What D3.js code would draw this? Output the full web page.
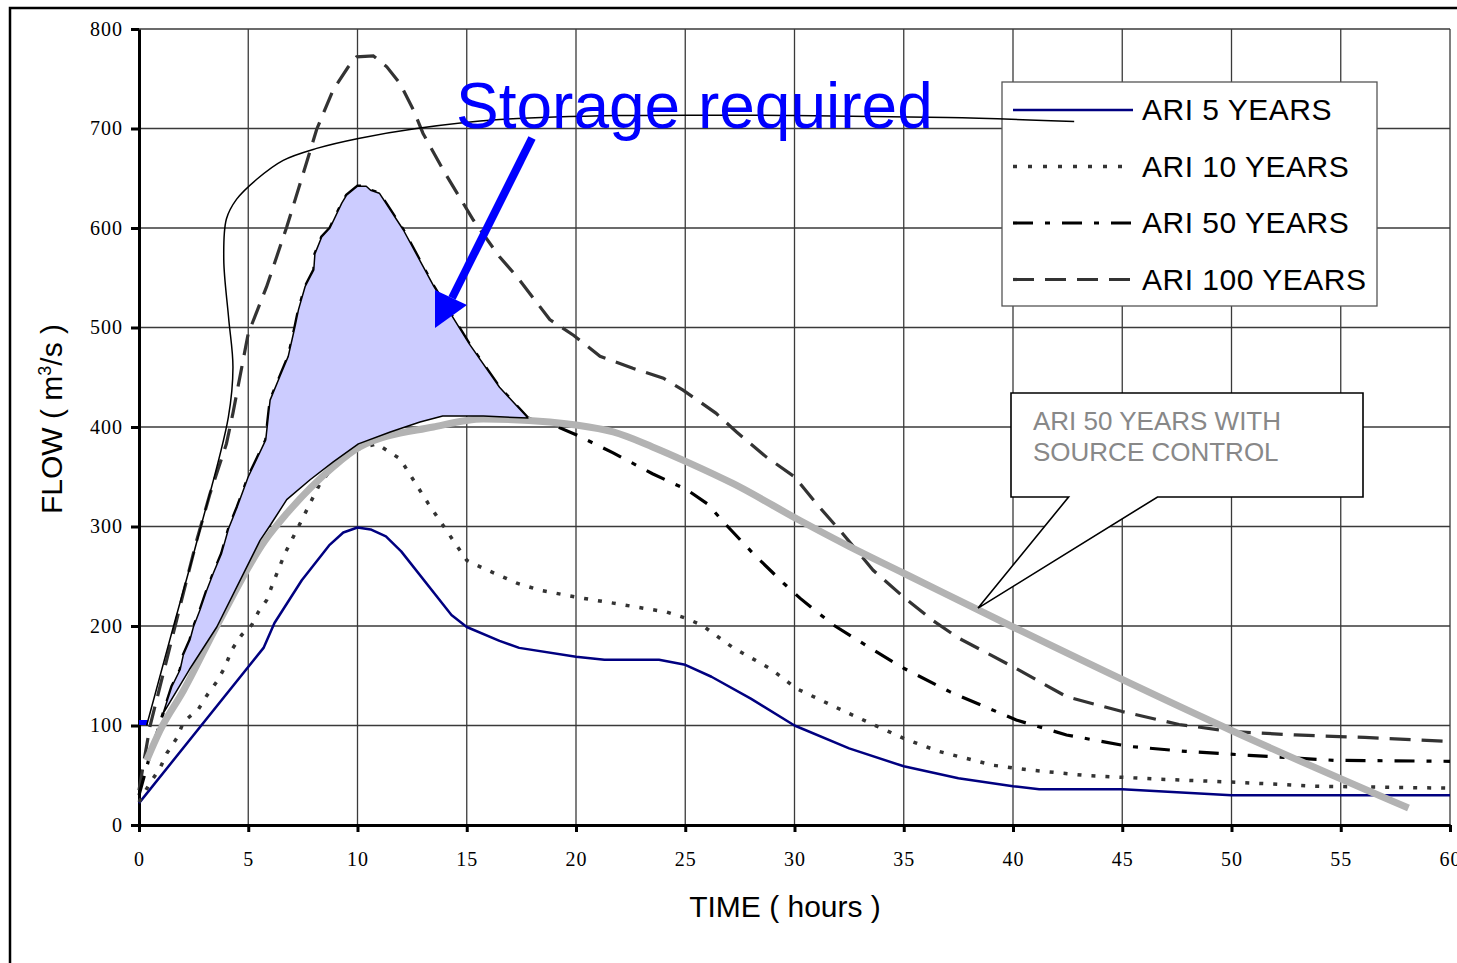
<!DOCTYPE html>
<html lang="en">
<head>
  <meta charset="UTF-8">
  <title>Flow hydrographs</title>
  <script src="https://d3js.org/d3.v7.min.js"></script>
  <style>
    * { margin: 0; padding: 0; box-sizing: border-box; }
    body { background: #fff; }
    svg { display: block; }
    .tick text { font-family: "Liberation Serif", "Times New Roman", serif; font-size: 20px; letter-spacing: 1px; fill: #000; }
  </style>
</head>
<body>
  <div id="chart"></div>

  <script>
    // tick labels
    const xTicks = [0, 5, 10, 15, 20, 25, 30, 35, 40, 45, 50, 55, 60];
    const yTicks = [0, 100, 200, 300, 400, 500, 600, 700, 800];

    // [hours, flow m3/s]
    const ari5 = [[0,22],[5.7,178],[6.2,203],[7.45,246],[8.7,281],[9.35,294],[10,299],[10.6,297],[11.3,290],[12,275],
      [14.3,211],[15,199],[16.5,185],[17.4,178],[20,169],[21.3,166],[23.8,166],[25,161],[26.2,149],[28,127],
      [30,100],[32.5,77],[35,59],[37.5,47],[40,39],[41.2,36],[45,36],[50,30],[60,30]];

    const ari10 = [[0,23],[0.5,42],[0.96,57],[1.27,72],[1.72,87],[2.05,104],[2.71,116],[3.1,130],[3.56,144],[3.94,159],
      [4.24,176],[4.7,191],[5.16,201],[5.46,214],[5.84,226],[6.15,244],[6.68,273],[7.37,303],[7.98,330],[8.28,343],
      [8.89,360],[10.04,378],[10.88,383],[11.95,368],[13.24,323],[14.38,286],[15,266],[15.76,258],[17.3,243],
      [18.35,236],[20,229],[21.7,223],[24.15,214],[25,208],[25.75,201],[27.2,178],[28.9,157],[30.1,137],[32.5,112],
      [35,87],[36.6,74],[39.1,60],[40.9,55],[43.2,50],[46.7,46],[50.2,43],[53.8,39],[60,37]];

    const ari50 = [[0,30],[0.5,70],[1.1,112],[1.5,139],[1.88,156],[2.03,171],[2.33,186],[2.49,199],[2.79,216],
      [3.1,236],[3.4,253],[3.78,273],[4.1,298],[4.5,320],[5.0,350],[5.8,387],[6.0,427],[6.45,451],[6.83,471],
      [7.14,501],[7.3,518],[7.6,541],[8.0,558],[8.05,574],[8.36,591],[8.74,600],[9.28,625],[9.5,633],[10.0,642],
      [10.4,642],[10.6,638],[11.0,635],[12.1,598],[13.5,541],[15.1,484],[16.5,440],[17.8,409],[18.96,402],
      [20.03,392],[21.7,374],[23.5,353],[25.07,337],[26.0,323],[26.9,301],[28.1,273],[29.5,243],[30.25,228],
      [31.78,201],[33.6,176],[35,157.5],[37.1,134],[40.15,105.5],[42.45,90.5],[45.3,79],[47.9,74],[50.8,70],
      [54.7,65],[60,64]];

    const ari100 = [[0,35],[0.5,99],[0.96,139],[2.03,233],[2.64,286],[3.25,333],[4.0,383],[4.3,414],[5.0,494],
      [5.84,541],[6.76,601],[7.52,655],[8.13,699],[8.89,739],[9.58,762],[9.96,772],[10.72,773],[11.34,762],
      [11.95,745],[12.55,719],[13.0,695],[13.93,658],[15.3,608],[16.5,571],[17.3,551],[18.8,508],[19.9,492],
      [21.1,471],[22.6,459],[24.0,449],[24.9,437],[26.4,414],[27.35,395],[28.7,370],[30,350],[31,323],[32.2,293],
      [33.6,256],[35,229],[36.3,206],[37.5,188],[40,159],[42.45,129],[45,114],[47.6,101],[50,94],[52.9,90.5],
      [56.1,88],[60,84]];

    const sourceControl = [[0.35,65],[0.96,95],[2.03,135],[3.63,203],[5.77,286],[6.76,313],[8.89,360],[10.1,380],
      [13.47,400],[15.76,408],[18.8,405],[20,402],[21.7,395],[23.5,380],[25.07,365],[27.2,343],[30.25,306],
      [32.5,280],[35,253],[40,199],[50,95],[58.1,17]];

    // lower edge of the shaded storage area
    const storageLower = [[1.1,112],[2.3,156],[3.56,199],[5.54,286],[6.0,301],[6.76,327],[7.83,347],[8.89,365],
      [10.04,383],[11.5,395],[12.86,405],[13.9,411],[15.76,411],[17.8,409]];

    // leader line of the "Storage required" note
    const leader = [[0.35,100],[1.57,199],[2.71,290],[4.09,410],[4.3,460],[4.1,510],[3.88,568],[4.0,609],
      [4.47,629],[5.39,649],[6.6,668],[8.13,680],[10.04,690],[12.7,700],[16.5,709],[22,713],[30,713],[37,711],[42.8,707]];

    const startMark = [[0,103],[0.4,103]];

    const legendLabels = ["ARI 5 YEARS", "ARI 10 YEARS", "ARI 50 YEARS", "ARI 100 YEARS"];

    const W = 1457, H = 963;
    const svg = d3.select("#chart").append("svg").attr("width", W).attr("height", H);

    const x = d3.scaleLinear().domain([0, 60]).range([139, 1450]);
    const y = d3.scaleLinear().domain([0, 800]).range([825, 29]);

    // outer frame
    svg.append("rect").attr("x", 10).attr("y", 8).attr("width", 1480).attr("height", 1000)
       .attr("fill", "#fff").attr("stroke", "#000").attr("stroke-width", 2.5);

    // grid
    svg.append("g").selectAll("line").data(yTicks.slice(1)).enter().append("line")
       .attr("x1", x(0)).attr("x2", x(60)).attr("y1", d => y(d)).attr("y2", d => y(d))
       .attr("stroke", "#3a3a3a").attr("stroke-width", 1.3);
    svg.append("g").selectAll("line").data(xTicks.slice(1)).enter().append("line")
       .attr("y1", y(0)).attr("y2", y(800)).attr("x1", d => x(d)).attr("x2", d => x(d))
       .attr("stroke", "#3a3a3a").attr("stroke-width", 1.3);

    // axes
    const yAxis = svg.append("g").attr("transform", `translate(${x(0)},0)`)
       .call(d3.axisLeft(y).tickValues(yTicks).tickSize(8).tickPadding(8).tickSizeOuter(0));
    const xAxis = svg.append("g").attr("transform", `translate(0,${y(0)})`)
       .call(d3.axisBottom(x).tickValues(xTicks).tickSize(7).tickPadding(20).tickSizeOuter(0));
    [yAxis, xAxis].forEach(g => {
      g.select(".domain").attr("stroke", "#000").attr("stroke-width", 3);
      g.selectAll(".tick line").attr("stroke", "#000").attr("stroke-width", 3);
    });

    const line = d3.line().x(d => x(d[0])).y(d => y(d[1]));
    const smooth = d3.line().x(d => x(d[0])).y(d => y(d[1])).curve(d3.curveMonotoneX);

    // series
    svg.append("path").datum(ari5).attr("d", line).attr("stroke-linejoin", "round")
       .attr("fill", "none").attr("stroke", "#000080").attr("stroke-width", 2.5);
    svg.append("path").datum(ari10).attr("d", line)
       .attr("fill", "none").attr("stroke", "#333").attr("stroke-width", 3.5).attr("stroke-dasharray", "4,10");
    svg.append("path").datum(ari100).attr("d", line)
       .attr("fill", "none").attr("stroke", "#333").attr("stroke-width", 3.2).attr("stroke-dasharray", "21,11");
    svg.append("path").datum(ari50).attr("d", line)
       .attr("fill", "none").attr("stroke", "#000").attr("stroke-width", 3.2).attr("stroke-dasharray", "20,12,5,12");

    svg.append("path").datum(sourceControl).attr("d", smooth)
       .attr("fill", "none").attr("stroke", "#b3b3b3").attr("stroke-width", 7);

    // storage required area
    const upper = ari50.filter(d => d[0] >= 1.1 && d[0] <= 17.8);
    const poly = upper.concat(storageLower.slice().reverse());
    svg.append("path").datum(poly)
       .attr("d", d3.line().x(d => x(d[0])).y(d => y(d[1])).curve(d3.curveLinearClosed))
       .attr("fill", "#ccccff").attr("stroke", "#000").attr("stroke-width", 1.5).attr("stroke-linejoin", "round");

    svg.append("path").datum(startMark).attr("d", line)
       .attr("stroke", "#0000ff").attr("stroke-width", 5).attr("fill", "none");

    // legend
    const lg = svg.append("g");
    lg.append("rect").attr("x", 1002).attr("y", 82).attr("width", 375).attr("height", 224)
      .attr("fill", "#fff").attr("stroke", "#555").attr("stroke-width", 1.3);
    const legendStyles = [
      { stroke: "#000080", width: 2.5, dash: null },
      { stroke: "#333", width: 3.5, dash: "4,11" },
      { stroke: "#000", width: 3.2, dash: "20,12,5,12" },
      { stroke: "#333", width: 3.2, dash: "21,11" }
    ];
    legendLabels.forEach((lab, i) => {
      const ly = 110 + i * 56.5;
      lg.append("line").attr("x1", 1013).attr("x2", 1133).attr("y1", ly).attr("y2", ly)
        .attr("stroke", legendStyles[i].stroke).attr("stroke-width", legendStyles[i].width)
        .attr("stroke-dasharray", legendStyles[i].dash);
      lg.append("text").attr("x", 1142).attr("y", ly + 10)
        .style("font-family", "'Liberation Sans', Arial, sans-serif").style("font-size", "30px")
        .style("letter-spacing", "0.5px").text(lab);
    });

    // source control callout
    const tipX = x(38.4), tipY = y(218);
    svg.append("path")
       .attr("d", `M1011,393 H1363 V497 H1157.5 L${tipX},${tipY} L1068.6,497 H1011 Z`)
       .attr("fill", "#fff").attr("stroke", "#000").attr("stroke-width", 1.6).attr("stroke-linejoin", "miter");
    const ct = svg.append("text").style("font-family", "'Liberation Sans', Arial, sans-serif")
       .style("font-size", "26px").attr("fill", "#888");
    ct.append("tspan").attr("x", 1033).attr("y", 430).text("ARI 50 YEARS WITH");
    ct.append("tspan").attr("x", 1033).attr("y", 461).text("SOURCE CONTROL");

    // storage required note
    svg.append("path").datum(leader)
       .attr("d", d3.line().x(d => x(d[0])).y(d => y(d[1])).curve(d3.curveCatmullRom.alpha(0.5)))
       .attr("fill", "none").attr("stroke", "#000").attr("stroke-width", 1.5);

    svg.append("text").attr("x", 456).attr("y", 128)
       .style("font-family", "'Liberation Sans', Arial, sans-serif").style("font-size", "64px")
       .attr("fill", "#0000ff").text("Storage required");

    svg.append("line").attr("x1", 532).attr("y1", 138).attr("x2", 452).attr("y2", 298)
       .attr("stroke", "#0000ff").attr("stroke-width", 8);
    svg.append("path").attr("d", "M435,290 L467,305 L435,328 Z").attr("fill", "#0000ff");

    // axis titles
    svg.append("text").attr("x", 785).attr("y", 917).attr("text-anchor", "middle")
       .style("font-family", "'Liberation Sans', Arial, sans-serif").style("font-size", "30px")
       .text("TIME ( hours )");
    const yt = svg.append("text").attr("transform", "translate(62,419) rotate(-90)").attr("text-anchor", "middle")
       .style("font-family", "'Liberation Sans', Arial, sans-serif").style("font-size", "30px");
    yt.append("tspan").text("FLOW ( m");
    yt.append("tspan").attr("dy", -11).style("font-size", "18px").text("3");
    yt.append("tspan").attr("dy", 11).text("/s )");
  </script>
</body>
</html>
